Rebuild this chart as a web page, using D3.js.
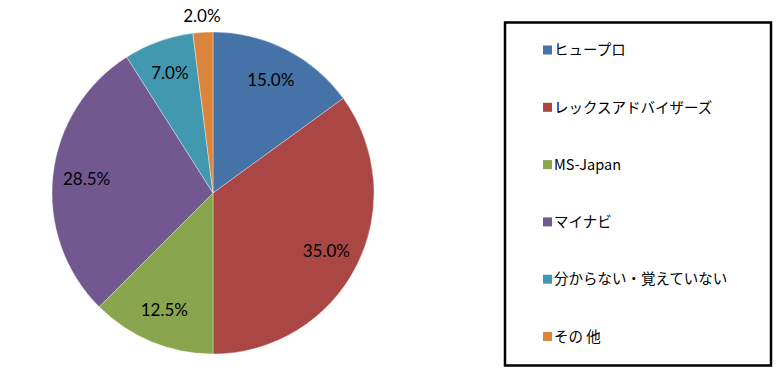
<!DOCTYPE html>
<html>
<head>
<meta charset="utf-8">
<script src="https://cdn.jsdelivr.net/npm/d3@7"></script>
<style>
  body { margin: 0; background: #fff; }
  svg { display: block; }
</style>
</head>
<body>
<div id="chart"></div>
<script>
// Data
const categories = ['ヒュープロ', 'レックスアドバイザーズ', 'MS-Japan', 'マイナビ', '分からない・覚えていない', 'その 他'];
const values = [15.0, 35.0, 12.5, 28.5, 7.0, 2.0];
const colors = ['#4572A7', '#AA4643', '#89A54E', '#71588F', '#4198AF', '#DB843D'];

const width = 780, height = 377;
const cx = 213, cy = 193, radius = 161;

const svg = d3.select('#chart')
  .append('svg')
  .attr('width', width)
  .attr('height', height);

const data = categories.map((c, i) => ({ name: c, value: values[i], color: colors[i] }));

const pie = d3.pie()
  .value(d => d.value)
  .sort(null);

const arc = d3.arc().innerRadius(0).outerRadius(radius);
const labelArc = d3.arc().innerRadius(radius * 0.79).outerRadius(radius * 0.79);
const outerLabelArc = d3.arc().innerRadius(radius * 1.1).outerRadius(radius * 1.1);

const g = svg.append('g')
  .attr('transform', `translate(${cx},${cy})`);

const arcs = pie(data);

g.selectAll('.slice')
  .data(arcs)
  .enter()
  .append('path')
  .attr('class', 'slice')
  .attr('d', arc)
  .attr('fill', d => d.data.color)
  .attr('stroke', '#fff')
  .attr('stroke-width', 0.6)
  .attr('stroke-opacity', 0.6);

// Slice labels (small slices go outside)
g.selectAll('.slice-label')
  .data(arcs)
  .enter()
  .append('text')
  .attr('class', 'slice-label')
  .attr('transform', d => {
    const a = d.data.value < 5 ? outerLabelArc : labelArc;
    return `translate(${a.centroid(d)})`;
  })
  .attr('text-anchor', 'middle')
  .attr('dy', '0.35em')
  .style('font-family', 'Lato, "Open Sans", sans-serif')
  .style('font-size', '17px')
  .style('fill', '#000')
  .text(d => d.data.value.toFixed(1) + '%');

// Legend
const legend = svg.append('g').attr('class', 'legend');

legend.append('rect')
  .attr('x', 505)
  .attr('y', 22.5)
  .attr('width', 266)
  .attr('height', 343)
  .attr('fill', '#fff')
  .attr('stroke', '#000')
  .attr('stroke-width', 2.5);

const legendY = d3.scalePoint()
  .domain(categories)
  .range([50, 336.5]);

const items = legend.selectAll('.legend-item')
  .data(data)
  .enter()
  .append('g')
  .attr('class', 'legend-item')
  .attr('transform', d => `translate(543,${legendY(d.name)})`);

items.append('rect')
  .attr('x', 0)
  .attr('y', -4.5)
  .attr('width', 9)
  .attr('height', 9)
  .attr('fill', d => d.color);

items.append('text')
  .attr('x', 11)
  .attr('y', 0)
  .attr('dy', '0.36em')
  .style('font-family', '"Noto Sans CJK JP", sans-serif')
  .style('font-size', '14.5px')
  .style('fill', '#000')
  .text(d => d.name);
</script>
</body>
</html>
